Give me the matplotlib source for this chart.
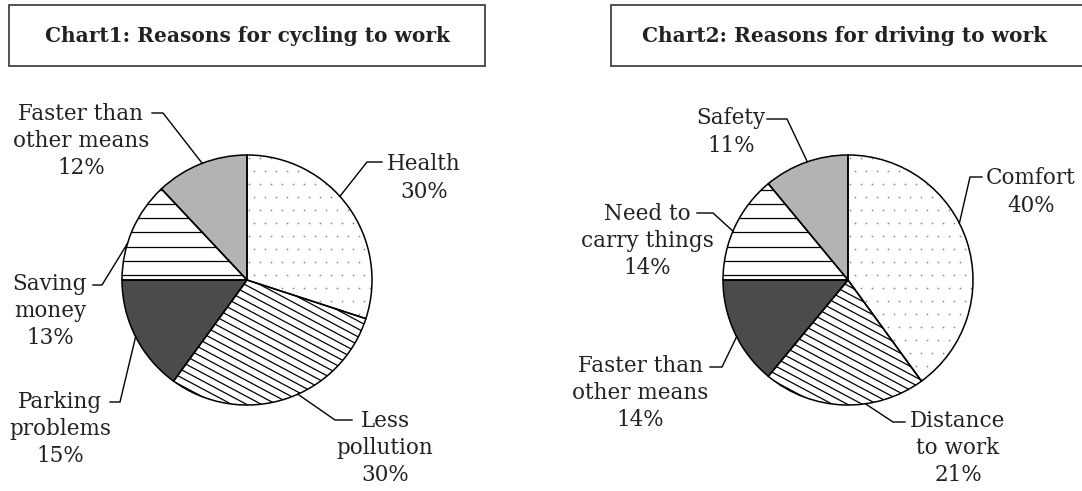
import numpy as np
import matplotlib.pyplot as plt
from matplotlib.patches import Rectangle
from matplotlib.collections import LineCollection

W, H = 1082, 491

titles = ["Chart1: Reasons for cycling to work", "Chart2: Reasons for driving to work"]

cycle_labels = ["Health", "Less\npollution", "Parking\nproblems", "Saving\nmoney", "Faster than\nother means"]
cycle_values = [30, 30, 15, 13, 12]

drive_labels = ["Comfort", "Distance\nto work", "Faster than\nother means", "Need to\ncarry things", "Safety"]
drive_values = [40, 21, 14, 14, 11]

# fill style for each slice, in drawing order (clockwise from 12 o'clock)
fills = ["dots", "diag", "dark", "hlines", "light"]
face = {"dots": "white", "diag": "white", "dark": "#4a4b4d", "hlines": "white", "light": "#b2b3b5"}

FONT = "DejaVu Serif"
R = 125

# layout, in image pixels: rim angle of leader, elbow, leader end, text centre
cycle_layout = [
    (42, (367, 162), (382, 162), (424, 178)),
    (-66, (335, 420), (352, 420), (385, 448)),
    (207, (120, 402), (110, 402), (60, 429)),
    (163, (102, 285), (93, 285), (50, 311)),
    (111, (163, 113), (152, 113), (81, 141)),
]
drive_layout = [
    (27, (970, 177), (982, 177), (1031, 192)),
    (-82, (893, 422), (905, 422), (958, 448)),
    (207, (722, 367), (710, 367), (640, 393)),
    (157, (713, 213), (697, 213), (647, 241)),
    (109, (787, 119), (767, 119), (731, 132)),
]


def Y(y):
    return H - y


def add_pattern(ax, wedge, kind, cx, cy):
    if kind == "dots":
        gx, gy = np.meshgrid(np.arange(cx - R, cx + R, 11.0), np.arange(cy - R, cy + R, 13.0))
        gx = gx + (np.arange(gy.shape[0]) % 2)[:, None] * 5.5
        sc = ax.scatter(gx.ravel(), gy.ravel(), s=1.6, c="#8a8a8a", linewidths=0, zorder=2)
        sc.set_clip_path(wedge)
    elif kind == "hlines":
        ys = np.arange(cy + 5, cy + R, 14.2)
        segs = [[(cx - R, y), (cx + R, y)] for y in ys]
        lc = LineCollection(segs, colors="black", linewidths=0.9, zorder=2)
        ax.add_collection(lc)
        lc.set_clip_path(wedge)
    elif kind == "diag":
        a = np.deg2rad(-28)
        d = np.array([np.cos(a), np.sin(a)])
        n = np.array([-d[1], d[0]])
        segs = []
        for k in np.arange(-2 * R, 2 * R, 7.0):
            p = np.array([cx, cy]) + n * k
            segs.append([p - d * 2 * R, p + d * 2 * R])
        lc = LineCollection(segs, colors="black", linewidths=0.9, zorder=2)
        ax.add_collection(lc)
        lc.set_clip_path(wedge)


def draw_pie(ax, values, labels, layout, center):
    cx, cy = center[0], Y(center[1])
    wedges, _ = ax.pie(values, startangle=90, counterclock=False, center=(cx, cy), radius=R,
                       colors=[face[f] for f in fills],
                       wedgeprops=dict(linewidth=0, zorder=1))
    for w, f in zip(wedges, fills):
        add_pattern(ax, w, f, cx, cy)
    ax.pie(values, startangle=90, counterclock=False, center=(cx, cy), radius=R,
           colors=["none"] * len(values),
           wedgeprops=dict(edgecolor="black", linewidth=1.1, zorder=3))
    for lab, val, (ang, elbow, end, txt) in zip(labels, values, layout):
        t = np.deg2rad(ang)
        rim = (cx + R * np.cos(t), cy + R * np.sin(t))
        ax.plot([rim[0], elbow[0], end[0]], [rim[1], Y(elbow[1]), Y(end[1])],
                color="black", lw=1.0, zorder=4, solid_joinstyle="miter")
        ax.text(txt[0], Y(txt[1]), f"{lab}\n{val}%", ha="center", va="center",
                multialignment="center", fontsize=15.5, family=FONT,
                color="#222222", linespacing=1.32, zorder=5)


fig = plt.figure(figsize=(W / 100, H / 100), dpi=100)
ax = fig.add_axes([0, 0, 1, 1])

draw_pie(ax, cycle_values, cycle_labels, cycle_layout, (247, 280))
draw_pie(ax, drive_values, drive_labels, drive_layout, (848, 280))

# title boxes (the second one runs off the right edge, so it has no right side)
ax.add_patch(Rectangle((9, Y(66)), 476, 61, fill=False, edgecolor="#333333", lw=1.2, zorder=5))
ax.plot([1100, 611, 611, 1100], [Y(5), Y(5), Y(66), Y(66)], color="#333333", lw=1.2,
        zorder=5, solid_joinstyle="miter")
for tc, title in zip([247, 845], titles):
    ax.text(tc, Y(36), title, ha="center", va="center", fontsize=14.5, family=FONT,
            fontweight="bold", color="#222222", zorder=6)

ax.set_xlim(0, W)
ax.set_ylim(0, H)
ax.set_aspect("equal")
ax.axis("off")

fig.savefig("out.png", dpi=100)
